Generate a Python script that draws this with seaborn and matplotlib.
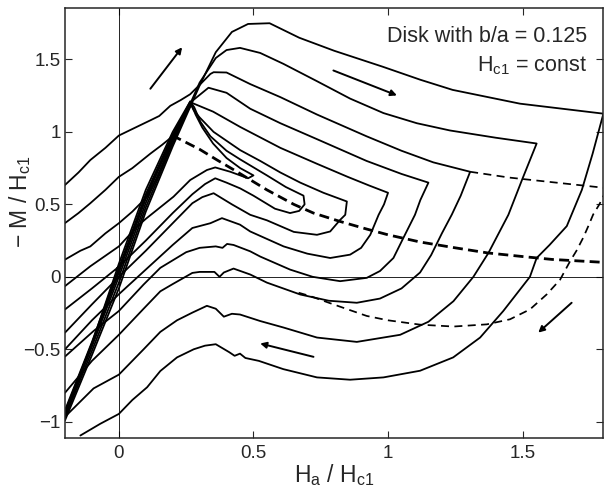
import seaborn as sns
import matplotlib.pyplot as plt
import pandas as pd

# loop branches: (H_a/H_c1, -M/H_c1)
L1_H = [-0.2, -0.1, 0.0, 0.1, 0.2, 0.3, 0.36, 0.42, 0.48, 0.56, 0.67, 0.8, 0.98, 1.12, 1.24, 1.49, 1.8,
        1.76, 1.72, 1.664, 1.60, 1.552, 1.527, 1.428, 1.342, 1.242, 1.119, 0.983, 0.859, 0.736, 0.611, 0.52,
        0.47, 0.45, 0.43, 0.41, 0.36, 0.32, 0.278, 0.216, 0.154, 0.105, 0.05, 0.0, -0.069, -0.143]
L1_M = [-0.99, -0.54, -0.08, 0.45, 0.90, 1.32, 1.55, 1.69, 1.745, 1.75, 1.65, 1.56, 1.45, 1.36, 1.29, 1.195, 1.126,
        0.85, 0.60, 0.35, 0.22, 0.13, 0.0, -0.236, -0.419, -0.556, -0.648, -0.694, -0.71, -0.694, -0.637, -0.58,
        -0.56, -0.53, -0.545, -0.52, -0.465, -0.475, -0.50, -0.556, -0.65, -0.762, -0.85, -0.946, -1.014, -1.095]

L2_H = [-0.2, -0.1, 0.0, 0.1, 0.2, 0.3, 0.36, 0.40, 0.45, 0.525, 0.611, 0.736, 0.859, 0.983, 1.107, 1.23, 1.4, 1.552,
        1.50, 1.447, 1.373, 1.317, 1.243, 1.15, 1.045, 0.884, 0.736, 0.612, 0.525, 0.45, 0.42, 0.39, 0.36, 0.327,
        0.273, 0.216, 0.154, 0.092, 0.0, -0.094, -0.197]
L2_M = [-0.97, -0.51, -0.04, 0.48, 0.92, 1.34, 1.51, 1.565, 1.58, 1.545, 1.47, 1.35, 1.23, 1.13, 1.06, 1.01, 0.96, 0.92,
        0.68, 0.428, 0.165, 0.0, -0.168, -0.31, -0.40, -0.449, -0.419, -0.35, -0.305, -0.26, -0.255, -0.275, -0.22, -0.20,
        -0.247, -0.30, -0.38, -0.50, -0.675, -0.77, -0.96]

L3_H = [-0.2, -0.15, -0.106, -0.05, 0.0, 0.05, 0.117, 0.15, 0.191, 0.23, 0.265, 0.303, 0.34, 0.352, 0.40, 0.488, 0.6,
        0.736, 0.92, 1.05, 1.168, 1.305,
        1.27, 1.237, 1.2, 1.16, 1.119, 1.05, 0.97, 0.884, 0.78, 0.674, 0.55, 0.488, 0.426, 0.39, 0.374, 0.355, 0.30,
        0.273, 0.2, 0.154, 0.092, 0.0, -0.1, -0.2]
L3_M = [0.634, 0.72, 0.806, 0.89, 0.975, 1.02, 1.08, 1.11, 1.18, 1.22, 1.26, 1.33, 1.40, 1.412, 1.41, 1.33, 1.24,
        1.12, 0.97, 0.87, 0.79, 0.725,
        0.56, 0.43, 0.30, 0.15, 0.03, -0.08, -0.15, -0.179, -0.165, -0.122, -0.04, 0.016, 0.057, 0.03, 0.0, 0.034, 0.034,
        0.027, -0.05, -0.10, -0.22, -0.40, -0.58, -0.80]

L4_H = [-0.2, -0.1, 0.0, 0.1, 0.2, 0.27, 0.333, 0.40, 0.488, 0.6, 0.736, 0.92, 1.05, 1.15,
        1.12, 1.1, 1.06, 1.02, 0.97, 0.921, 0.822, 0.72, 0.636, 0.525, 0.488, 0.426, 0.402, 0.385, 0.36, 0.3, 0.25,
        0.154, 0.092, 0.0, -0.094, -0.2]
L4_M = [-0.95, -0.48, 0.0, 0.51, 0.94, 1.21, 1.305, 1.27, 1.16, 1.06, 0.95, 0.80, 0.71, 0.65,
        0.53, 0.428, 0.28, 0.13, 0.04, -0.007, -0.03, 0.0, 0.05, 0.14, 0.176, 0.22, 0.227, 0.20, 0.21, 0.2, 0.17,
        0.062, -0.053, -0.236, -0.374, -0.55]

L5_H = [-0.2, -0.1, 0.0, 0.1, 0.2, 0.272, 0.35, 0.451, 0.6, 0.736, 0.85, 0.93, 1.0,
        0.985, 0.965, 0.934, 0.90, 0.859, 0.785, 0.7, 0.612, 0.488, 0.45, 0.383, 0.34, 0.273, 0.2, 0.1, 0.0, -0.1, -0.2]
L5_M = [-0.93, -0.46, 0.03, 0.54, 0.96, 1.20, 1.14, 1.034, 0.89, 0.78, 0.69, 0.63, 0.58,
        0.5, 0.428, 0.29, 0.2, 0.153, 0.13, 0.16, 0.21, 0.313, 0.36, 0.405, 0.37, 0.337, 0.22, 0.05, -0.12, -0.30, -0.50]

L6_H = [-0.2, -0.1, 0.0, 0.1, 0.2, 0.265, 0.278, 0.30, 0.352, 0.451, 0.525, 0.6, 0.674, 0.76, 0.847,
        0.841, 0.822, 0.785, 0.736, 0.65, 0.55, 0.488, 0.42, 0.352, 0.31, 0.273, 0.2, 0.1, 0.0, -0.1, -0.2]
L6_M = [-0.92, -0.45, 0.06, 0.57, 0.98, 1.20, 1.15, 1.10, 1.0, 0.874, 0.80, 0.72, 0.65, 0.58, 0.52,
        0.428, 0.393, 0.313, 0.29, 0.31, 0.39, 0.428, 0.50, 0.577, 0.55, 0.508, 0.37, 0.18, 0.0, -0.19, -0.385]

L7_H = [-0.2, -0.1, 0.0, 0.1, 0.2, 0.265, 0.28, 0.303, 0.34, 0.40, 0.451, 0.55, 0.62, 0.686,
        0.69, 0.67, 0.636, 0.58, 0.5, 0.451, 0.40, 0.358, 0.32, 0.273, 0.2, 0.1, 0.0, -0.1, -0.2]
L7_M = [-0.94, -0.46, 0.09, 0.60, 1.0, 1.21, 1.17, 1.07, 0.97, 0.87, 0.81, 0.70, 0.62, 0.56,
        0.50, 0.455, 0.44, 0.47, 0.56, 0.61, 0.65, 0.68, 0.64, 0.57, 0.44, 0.25, 0.07, -0.08, -0.225]

L8_H = [-0.2, -0.1, 0.0, 0.1, 0.2, 0.265, 0.285, 0.31, 0.35, 0.40, 0.451, 0.50,
        0.48, 0.414, 0.358, 0.327, 0.265, 0.203, 0.1, 0.068, 0.0, -0.106, -0.2]
L8_M = [-0.96, -0.47, 0.05, 0.55, 0.97, 1.21, 1.12, 1.03, 0.92, 0.82, 0.75, 0.70,
        0.68, 0.725, 0.755, 0.737, 0.668, 0.553, 0.40, 0.347, 0.21, 0.073, -0.064]

UL2_H = [-0.2, -0.15, -0.106, -0.05, 0.0, 0.05, 0.117, 0.16, 0.197, 0.24, 0.265]
UL2_M = [0.371, 0.44, 0.508, 0.60, 0.69, 0.75, 0.85, 0.91, 0.966, 1.09, 1.20]
UL3_H = [-0.2, -0.143, -0.106, -0.05, 0.0, 0.05, 0.105, 0.15, 0.2, 0.265]
UL3_M = [0.119, 0.18, 0.21, 0.30, 0.37, 0.45, 0.553, 0.71, 0.95, 1.20]

# dashed curves
D1_H = [0.197, 0.30, 0.365, 0.43, 0.55, 0.65, 0.723, 0.822, 0.92, 1.0, 1.12, 1.25, 1.37, 1.5, 1.61, 1.8]
D1_M = [0.977, 0.88, 0.806, 0.735, 0.60, 0.50, 0.44, 0.382, 0.33, 0.29, 0.24, 0.20, 0.165, 0.14, 0.12, 0.10]
D2_H = [1.305, 1.45, 1.6, 1.7, 1.8, 1.82, 1.806, 1.785, 1.762, 1.744, 1.725, 1.70, 1.676, 1.639, 1.589, 1.527,
        1.453, 1.367, 1.243, 1.119, 1.0, 0.921, 0.797, 0.711, 0.65]
D2_M = [0.725, 0.685, 0.655, 0.635, 0.615, 0.61, 0.58, 0.50, 0.43, 0.35, 0.27, 0.18, 0.107, -0.02, -0.122, -0.225,
        -0.293, -0.328, -0.343, -0.33, -0.30, -0.27, -0.19, -0.133, -0.10]

ARROWS = [((0.117, 1.298), (0.235, 1.584)), ((0.797, 1.424), (1.033, 1.252)),
          ((1.682, -0.179), (1.558, -0.385)), ((0.723, -0.552), (0.525, -0.46))]

solid = {'L1': (L1_H, L1_M), 'L2': (L2_H, L2_M), 'L3': (L3_H, L3_M), 'L4': (L4_H, L4_M),
         'L5': (L5_H, L5_M), 'L6': (L6_H, L6_M), 'L7': (L7_H, L7_M), 'L8': (L8_H, L8_M),
         'UL2': (UL2_H, UL2_M), 'UL3': (UL3_H, UL3_M)}
solid_df = pd.concat([pd.DataFrame({'H': h, 'M': m, 'curve': k}) for k, (h, m) in solid.items()])

sns.set_style('ticks')
plt.rcParams['font.family'] = ['Liberation Sans', 'DejaVu Sans']
plt.rcParams['mathtext.fontset'] = 'custom'
plt.rcParams['mathtext.rm'] = 'Liberation Sans'
plt.rcParams['mathtext.it'] = 'Liberation Sans:italic'

fig, ax = plt.subplots(figsize=(6.06, 4.92), dpi=100)
fig.subplots_adjust(left=0.1073, right=0.9957, bottom=0.1104, top=0.9837)

ax.axhline(0, color='k', lw=0.6)
ax.axvline(0, color='k', lw=0.6)

sns.lineplot(data=solid_df, x='H', y='M', units='curve', estimator=None, sort=False,
             color='k', linewidth=1.3, ax=ax, legend=False)
sns.lineplot(x=D1_H, y=D1_M, sort=False, estimator=None, color='k', linewidth=2.0,
             linestyle=(0, (3.6, 1.9)), ax=ax)
sns.lineplot(x=D2_H, y=D2_M, sort=False, estimator=None, color='k', linewidth=1.25,
             linestyle=(0, (4.6, 3.1)), ax=ax)

for (x0, y0), (x1, y1) in ARROWS:
    ax.annotate('', xy=(x1, y1), xytext=(x0, y0),
                arrowprops=dict(arrowstyle='-|>', color='k', lw=1.4, mutation_scale=9,
                                shrinkA=0, shrinkB=0))

ax.text(0.969, 0.921, 'Disk with b/a = 0.125', transform=ax.transAxes,
        ha='right', va='baseline', fontsize=15.5)
ax.text(0.969, 0.852, r'H$_{\mathrm{c1}}$ = const', transform=ax.transAxes,
        ha='right', va='baseline', fontsize=15.5)

ax.set_xlim(-0.2, 1.8)
ax.set_ylim(-1.11, 1.855)
ax.set_xticks([0, 0.5, 1, 1.5])
ax.set_xticklabels(['0', '0.5', '1', '1.5'])
ax.set_yticks([-1, -0.5, 0, 0.5, 1, 1.5])
ax.set_yticklabels(['\u22121', '\u22120.5', '0', '0.5', '1', '1.5'])
ax.tick_params(direction='in', top=True, right=True, length=5, width=0.8,
               labelsize=13.5, pad=5)
ax.tick_params(axis='y', pad=3)
for s in ax.spines.values():
    s.set_linewidth(1.1)

ax.set_xlabel(r'H$_{\mathrm{a}}$ / H$_{\mathrm{c1}}$', fontsize=16.5, labelpad=0)
ax.set_ylabel('\u2212 M / H$_{\\mathrm{c1}}$', fontsize=16.5)
ax.yaxis.set_label_coords(-0.06, 0.55)

fig.savefig('out.png', dpi=100)
